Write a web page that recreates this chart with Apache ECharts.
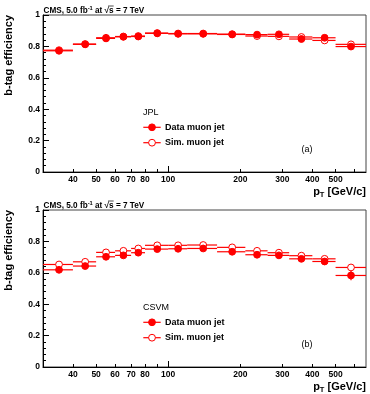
<!DOCTYPE html>
<html><head><meta charset="utf-8">
<script src="https://cdn.jsdelivr.net/npm/echarts@6/dist/echarts.min.js"></script>
<style>html,body{margin:0;padding:0;background:#fff}#c{width:370px;height:394px}</style>
</head><body><div id="c"></div>
<script>
// ---- data ----
const binLow  = [30, 40, 50, 60, 70, 80, 100, 120, 160, 210, 260, 320, 400, 500];
const binHigh = [40, 50, 60, 70, 80, 100, 120, 160, 210, 260, 320, 400, 500, 670];
const ptCenter = [35, 45, 55, 65, 75, 90, 110, 140, 185, 235, 290, 360, 450, 580];

const jplData    = [0.772, 0.813, 0.851, 0.861, 0.863, 0.883, 0.880, 0.880, 0.876, 0.875, 0.877, 0.847, 0.855, 0.799];
const jplDataErr = [0.004, 0.004, 0.004, 0.004, 0.004, 0.004, 0.005, 0.005, 0.006, 0.008, 0.010, 0.012, 0.014, 0.016];
const jplSim     = [0.776, 0.815, 0.855, 0.863, 0.866, 0.885, 0.882, 0.882, 0.878, 0.866, 0.864, 0.860, 0.838, 0.813];
const jplSimErr  = [0.003, 0.003, 0.003, 0.003, 0.003, 0.003, 0.003, 0.004, 0.004, 0.005, 0.006, 0.007, 0.008, 0.010];

const csvmData    = [0.619, 0.643, 0.702, 0.711, 0.728, 0.751, 0.753, 0.755, 0.734, 0.715, 0.711, 0.689, 0.672, 0.583];
const csvmDataErr = [0.005, 0.005, 0.005, 0.005, 0.005, 0.005, 0.006, 0.006, 0.008, 0.010, 0.012, 0.014, 0.016, 0.030];
const csvmSim     = [0.653, 0.670, 0.730, 0.740, 0.755, 0.775, 0.775, 0.777, 0.762, 0.740, 0.728, 0.709, 0.689, 0.634];
const csvmSimErr  = [0.003, 0.003, 0.003, 0.003, 0.003, 0.003, 0.003, 0.004, 0.004, 0.005, 0.006, 0.007, 0.008, 0.012];

const xLabelValues = [40, 50, 60, 70, 80, 100, 200, 300, 400, 500];
const xShortTicks  = [40, 50, 60, 70, 80, 90, 200, 300, 400, 500, 600];
const xLongTicks   = [100];
const panelTaggers = ['JPL', 'CSVM'];
const panelTags    = ['(a)', '(b)'];
const seriesNames  = ['Data muon jet', 'Sim. muon jet'];

// ---- chart ----
const FONT = '"Liberation Sans", Arial, Helvetica, sans-serif';
const RED = '#ff0000';
const chart = echarts.init(document.getElementById('c'), null, {renderer: 'canvas'});

const grids = [
  {left: 43, top: 15, width: 323, height: 157},
  {left: 43, top: 210, width: 323, height: 157}
];

function makeXAxes(gi) {
  return [
    {
      type: 'log', logBase: 10, gridIndex: gi, min: 30, max: 670, position: 'bottom',
      axisLine: {show: true, lineStyle: {color: '#000', width: 1}},
      axisTick: {show: true, inside: true, length: 3, customValues: xShortTicks, lineStyle: {color: '#000'}},
      minorTick: {show: false},
      splitLine: {show: false},
      axisLabel: {show: true, customValues: xLabelValues, margin: 3, fontSize: 8.5, fontWeight: 'bold',
                  color: '#000', fontFamily: FONT, formatter: v => String(Math.round(v))}
    },
    {
      type: 'log', logBase: 10, gridIndex: gi, min: 30, max: 670, position: 'bottom',
      axisLine: {show: false},
      axisTick: {show: true, inside: true, length: 6, customValues: xLongTicks, lineStyle: {color: '#000'}},
      splitLine: {show: false},
      axisLabel: {show: false}
    }
  ];
}
function makeYAxis(gi) {
  return {
    type: 'value', gridIndex: gi, min: 0, max: 1, interval: 0.2,
    axisLine: {show: true, lineStyle: {color: '#000', width: 1}},
    axisTick: {show: true, inside: true, length: 6, lineStyle: {color: '#000'}},
    minorTick: {show: true, splitNumber: 5, length: 3, lineStyle: {color: '#000'}},
    splitLine: {show: false},
    axisLabel: {margin: 3, fontSize: 8.5, fontWeight: 'bold', color: '#000', fontFamily: FONT}
  };
}

function makeSeries(name, xi, yi, vals, errs, filled) {
  const data = vals.map((v, i) => [ptCenter[i], v, binLow[i], binHigh[i], errs[i]]);
  return {
    type: 'custom', name: name, xAxisIndex: xi, yAxisIndex: yi, data: data,
    encode: {x: [0, 2, 3], y: 1},
    z: filled ? 4 : 3,
    renderItem: function (params, api) {
      const x = api.value(0), y = api.value(1), lo = api.value(2), hi = api.value(3), e = api.value(4);
      const pL = api.coord([lo, y]), pR = api.coord([hi, y]), pC = api.coord([x, y]);
      const pT = api.coord([x, y + e]), pB = api.coord([x, y - e]);
      return {
        type: 'group',
        children: [
          {type: 'line', shape: {x1: pL[0], y1: pL[1], x2: pR[0], y2: pR[1]}, style: {stroke: RED, lineWidth: 1.2}},
          {type: 'line', shape: {x1: pT[0], y1: pT[1], x2: pB[0], y2: pB[1]}, style: {stroke: RED, lineWidth: 1.2}},
          {type: 'circle', shape: {cx: pC[0], cy: pC[1], r: 3.4},
           style: {fill: filled ? RED : '#fff', stroke: RED, lineWidth: 1}}
        ]
      };
    }
  };
}

// text measuring for the overline on "s"
const mctx = document.createElement('canvas').getContext('2d');
function tw(txt, size) { mctx.font = 'bold ' + size + 'px ' + FONT; return mctx.measureText(txt).width; }
const HSZ = 8.2, HSUP = 5.8;

function legendGraphics(pi) {
  const dy = pi * 195;
  const out = [];
  out.push({type: 'text', x: 143, y: 112.7 + dy,
    style: {text: panelTaggers[pi], fontSize: 9, fontFamily: FONT, fill: '#000', verticalAlign: 'middle', align: 'left'}});
  [127.3, 142.7].forEach((yy, k) => {
    out.push({type: 'line', shape: {x1: 143.3, y1: yy + dy, x2: 160.7, y2: yy + dy}, style: {stroke: RED, lineWidth: 1.2}});
    out.push({type: 'circle', shape: {cx: 152, cy: yy + dy, r: 3.4},
      style: {fill: k === 0 ? RED : '#fff', stroke: RED, lineWidth: 1}});
    out.push({type: 'text', x: 165, y: yy + dy,
      style: {text: seriesNames[k], fontSize: 9, fontWeight: 'bold', fontFamily: FONT, fill: '#000', verticalAlign: 'middle'}});
  });
  out.push({type: 'text', x: 301.5, y: 150 + dy,
    style: {text: panelTags[pi], fontSize: 9, fontFamily: FONT, fill: '#000', verticalAlign: 'middle'}});
  // y axis title
  out.push({type: 'text', x: 9, y: 15 + dy, rotation: Math.PI / 2,
    style: {text: 'b-tag efficiency', fontSize: 11, fontWeight: 'bold', fontFamily: FONT, fill: '#000',
            align: 'right', verticalAlign: 'middle'}});
  // x axis title
  out.push({type: 'text', x: 366, y: 191.5 + dy,
    style: {text: '{b|p}{s|T}{b| [GeV/c]}', align: 'right', verticalAlign: 'middle',
      rich: {
        b: {fontSize: 11, fontWeight: 'bold', fontFamily: FONT, fill: '#000'},
        s: {fontSize: 7.5, fontWeight: 'bold', fontFamily: FONT, fill: '#000', padding: [6, 0, 0, 0]}
      }}});
  // header
  const hx = 43.5;
  out.push({type: 'text', x: hx, y: 10.5 + dy,
    style: {text: '{n|CMS, 5.0 fb}{u|-1}{n| at √s = 7 TeV}', align: 'left', verticalAlign: 'middle',
      rich: {
        n: {fontSize: HSZ, fontWeight: 'bold', fontFamily: FONT, fill: '#000'},
        u: {fontSize: HSUP, fontWeight: 'bold', fontFamily: FONT, fill: '#000', padding: [0, 0, 4, 0]}
      }}});
  // overline over the "s" after the root sign
  const ox = hx + tw('CMS, 5.0 fb', HSZ) + tw('-1', HSUP) + tw(' at √', HSZ) - 1;
  const ow = tw('s', HSZ) + 1;
  out.push({type: 'line', shape: {x1: ox, y1: 6.0 + dy, x2: ox + ow, y2: 6.0 + dy}, style: {stroke: '#000', lineWidth: 0.7}});
  return out;
}

const option = {
  animation: false,
  backgroundColor: '#fff',
  grid: grids.map(g => Object.assign({show: true, borderColor: '#444', borderWidth: 1, backgroundColor: 'transparent'}, g)),
  xAxis: makeXAxes(0).concat(makeXAxes(1)),
  yAxis: [makeYAxis(0), makeYAxis(1)],
  series: [
    makeSeries(seriesNames[1], 0, 0, jplSim, jplSimErr, false),
    makeSeries(seriesNames[0], 0, 0, jplData, jplDataErr, true),
    makeSeries(seriesNames[1], 2, 1, csvmSim, csvmSimErr, false),
    makeSeries(seriesNames[0], 2, 1, csvmData, csvmDataErr, true)
  ],
  graphic: legendGraphics(0).concat(legendGraphics(1))
};
chart.setOption(option);
</script>
</body></html>
